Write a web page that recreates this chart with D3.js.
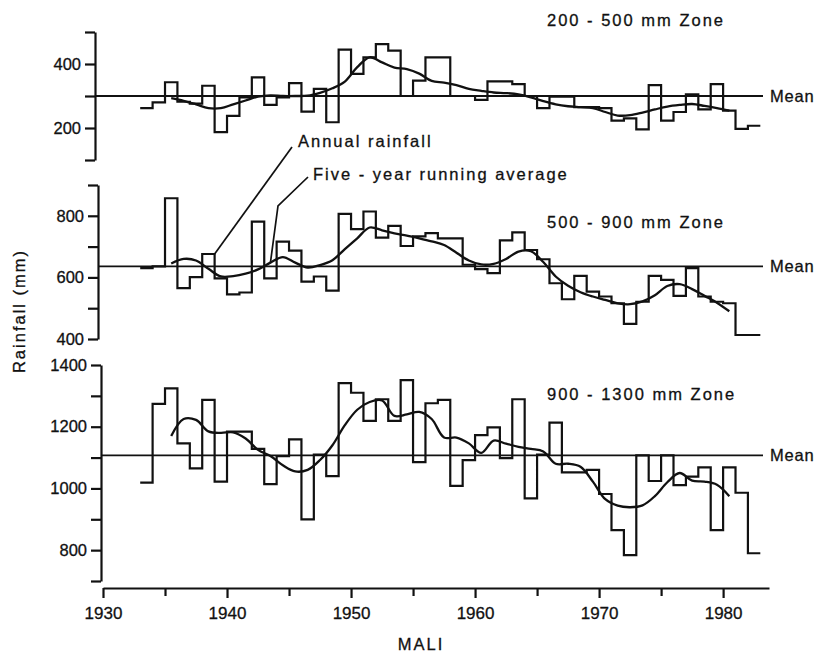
<!DOCTYPE html>
<html lang="en">
<head>
  <meta charset="UTF-8">
  <title>Mali rainfall by zone</title>
  <style>
    body { margin: 0; background: #fff; }
    svg { display: block; font-family: 'Liberation Sans', Arial, Helvetica, sans-serif; }
    .axis path, .axis line { stroke: #111; stroke-width: 2.2px; }
    .axis text { fill: #111; font-size: 16.5px; stroke: #111; stroke-width: 0.3px; font-family: 'Liberation Sans', Arial, sans-serif; }
    .xaxis text { font-size: 17px; }
    .step { fill: none; stroke: #111; stroke-width: 2.2px; }
    .avg { fill: none; stroke: #111; stroke-width: 2.3px; }
    .mean { stroke: #111; stroke-width: 1.8px; }
    .lbl { font-size: 16.5px; fill: #111; stroke: #111; stroke-width: 0.3px; letter-spacing: 2px; }
    .lead { fill: none; stroke: #111; stroke-width: 1.7px; }
  </style>
</head>
<body>
  <svg id="chart" width="822" height="653"></svg>

  <script src="https://cdn.jsdelivr.net/npm/d3@7"></script>
  <script>
    // years of the annual series (steps), 1933-1982
    const years = d3.range(1933, 1983);
    // years of the five-year running average, 1935-1980
    const avgYears = d3.range(1935, 1981);

    // 200 - 500 mm zone
    const rain200 = [262, 280, 343, 282, 276, 332, 187, 238, 296, 358,
                     272, 296, 340, 251, 322, 218, 445, 369, 421, 462,
                     442, 300, 348, 421, 421, 300, 300, 288, 346, 346,
                     337, 300, 262, 298, 298, 265, 265, 262, 223, 230,
                     196, 334, 223, 250, 305, 258, 337, 254, 197, 207];
    const avg200 = [293, 285, 274, 262, 262, 274, 286, 298, 302, 300,
                    300, 301, 310, 324, 345, 390, 421, 405, 389, 384,
                    370, 347, 342, 334, 322, 316, 311, 309, 305, 296,
                    284, 274, 268, 265, 262, 250, 239, 240, 248, 258,
                    267, 272, 275, 269, 262, 254];

    // 500 - 900 mm zone
    const rain500 = [630, 636, 857, 565, 601, 676, 597, 545, 551, 781,
                     597, 716, 687, 586, 603, 557, 806, 757, 814, 729,
                     767, 702, 733, 744, 727, 727, 641, 627, 614, 720,
                     746, 689, 659, 581, 529, 605, 554, 538, 516, 449,
                     521, 605, 592, 540, 630, 538, 521, 516, 413, 413];
    const avg500 = [645, 660, 655, 628, 603, 604, 612, 626, 648, 666,
                    648, 632, 640, 656, 692, 727, 762, 753, 743, 736,
                    727, 717, 705, 680, 655, 642, 644, 660, 684, 685,
                    650, 603, 573, 552, 538, 527, 516, 513, 522, 542,
                    572, 578, 562, 540, 518, 490];

    // 900 - 1300 mm zone
    const rain900 = [1019, 1274, 1324, 1146, 1065, 1287, 1022, 1184, 1184, 1128,
                     1014, 1105, 1159, 900, 1110, 1040, 1341, 1310, 1219, 1289,
                     1219, 1351, 1085, 1276, 1287, 1008, 1092, 1173, 1198, 1098,
                     1289, 968, 1110, 1213, 1052, 1052, 1060, 982, 865, 784,
                     1107, 1024, 1107, 1011, 1038, 1068, 865, 1068, 986, 790];
    const avg900 = [1170, 1225, 1222, 1185, 1180, 1182, 1162, 1125, 1105, 1075,
                    1055, 1060, 1092, 1140, 1205, 1255, 1280, 1285, 1235, 1240,
                    1248, 1225, 1165, 1165, 1146, 1115, 1155, 1145, 1135, 1128,
                    1120, 1080, 1080, 1070, 1022, 965, 944, 939, 945, 975,
                    1020, 1050, 1025, 1022, 1012, 975];

    const zoneNames = ['200 - 500 mm Zone', '500 - 900 mm Zone', '900 - 1300 mm Zone'];
    const zoneMeans = [300, 636, 1107];
    const yTicks = [[100, 200, 300, 400, 500],
                    [400, 500, 600, 700, 800, 900],
                    [700, 800, 900, 1000, 1100, 1200, 1300, 1400]];
    const yLabels = [[200, 400], [400, 600, 800], [800, 1000, 1200, 1400]];
    const xTicks = [1930, 1935, 1940, 1945, 1950, 1955, 1960, 1965, 1970, 1975, 1980];

    // layout
    const svg = d3.select('#chart');
    const x = d3.scaleLinear().domain([1930, 1983.7]).range([103, 769]);
    const meanEnd = 763;

    const panels = [
      { name: zoneNames[0], rain: rain200, avg: avg200, mean: zoneMeans[0],
        y: d3.scaleLinear().domain([100, 500]).range([160, 32]),
        ax: 95, titleY: 26, ticks: yTicks[0], labels: yLabels[0] },
      { name: zoneNames[1], rain: rain500, avg: avg500, mean: zoneMeans[1],
        y: d3.scaleLinear().domain([400, 900]).range([339, 185]),
        ax: 98, titleY: 228, ticks: yTicks[1], labels: yLabels[1] },
      { name: zoneNames[2], rain: rain900, avg: avg900, mean: zoneMeans[2],
        y: d3.scaleLinear().domain([700, 1400]).range([581, 365]),
        ax: 101, titleY: 400, ticks: yTicks[2], labels: yLabels[2] }
    ];

    panels.forEach(p => {
      const y = p.y;

      // y axis, ticks pointing left, labels every 200 mm
      svg.append('g')
        .attr('class', 'axis')
        .attr('transform', `translate(${p.ax},0)`)
        .call(d3.axisLeft(y)
          .tickValues(p.ticks)
          .tickSize(10)
          .tickSizeOuter(0)
          .tickPadding(4)
          .tickFormat(d => p.labels.includes(d) ? d : ''));

      // mean line
      svg.append('line')
        .attr('class', 'mean')
        .attr('x1', p.ax).attr('x2', meanEnd)
        .attr('y1', y(p.mean)).attr('y2', y(p.mean));
      svg.append('text')
        .attr('class', 'lbl')
        .style('letter-spacing', '0.8px')
        .attr('x', meanEnd + 7)
        .attr('y', y(p.mean))
        .attr('dy', '0.35em')
        .text('Mean');

      // annual rainfall as steps
      const pts = years.map((yr, i) => [yr, p.rain[i]]);
      pts.push([years[years.length - 1] + 1, p.rain[p.rain.length - 1]]);
      svg.append('path')
        .attr('class', 'step')
        .attr('d', d3.line()
          .x(d => x(d[0])).y(d => y(d[1]))
          .curve(d3.curveStepAfter)(pts));

      // five-year running average, plotted at mid-year
      svg.append('path')
        .attr('class', 'avg')
        .attr('d', d3.line()
          .x(d => x(d[0] + 0.5)).y(d => y(d[1]))
          .curve(d3.curveCatmullRom.alpha(0.5))(avgYears.map((yr, i) => [yr, p.avg[i]])));

      svg.append('text')
        .attr('class', 'lbl')
        .attr('x', 547)
        .attr('y', p.titleY)
        .text(p.name);
    });

    // x axis
    const xAxis = svg.append('g')
      .attr('class', 'axis xaxis')
      .attr('transform', 'translate(0,588)')
      .call(d3.axisBottom(x)
        .tickValues(xTicks)
        .tickSize(10)
        .tickSizeOuter(0)
        .tickPadding(9)
        .tickFormat(d => d % 10 === 0 ? d : ''));
    xAxis.selectAll('.tick')
      .filter(d => d % 10 !== 0)
      .select('line').attr('y2', 8);

    svg.append('text')
      .attr('class', 'lbl')
      .attr('x', 421).attr('y', 650)
      .attr('text-anchor', 'middle')
      .text('MALI');

    svg.append('text')
      .attr('class', 'lbl')
      .attr('transform', 'translate(25,311) rotate(-90)')
      .attr('text-anchor', 'middle')
      .text('Rainfall (mm)');

    // annotations in the 500 - 900 mm panel
    const mid = panels[1];
    svg.append('path')
      .attr('class', 'lead')
      .attr('d', `M292,147L${x(1939)},${mid.y(rain500[years.indexOf(1938)])}`);
    svg.append('text')
      .attr('class', 'lbl')
      .attr('x', 298).attr('y', 147)
      .text('Annual rainfall');

    svg.append('path')
      .attr('class', 'lead')
      .attr('d', `M308,177L278,206L${x(1943.5)},${mid.y(avg500[avgYears.indexOf(1943)])}`);
    svg.append('text')
      .attr('class', 'lbl')
      .attr('x', 313).attr('y', 180)
      .text('Five - year running average');
  </script>
</body>
</html>
